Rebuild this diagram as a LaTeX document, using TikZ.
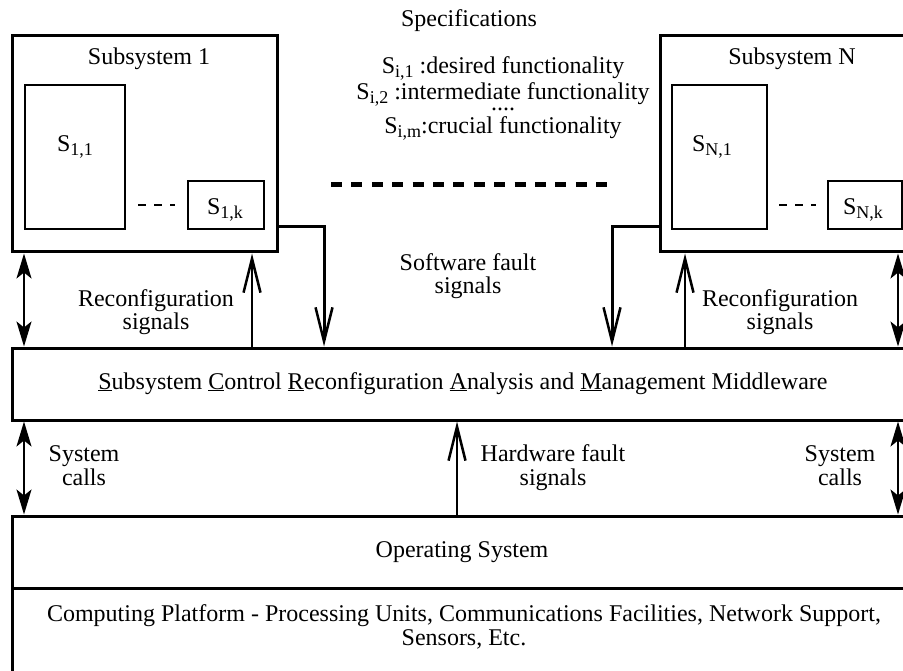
\documentclass[tikz,border=0pt]{standalone}
\usepackage{fontspec}
\setmainfont{Liberation Serif}
\usetikzlibrary{arrows.meta}
% lowered, smaller index after an S
\newcommand\idx[1]{\raisebox{-4pt}{\fontsize{18}{18}\selectfont #1}}

\begin{document}
\begin{tikzpicture}[x=1pt,y=-1pt,
  box/.style={draw, line width=3pt, inner sep=0pt},
  inbox/.style={draw, line width=2pt, inner sep=0pt},
  lbl/.style={font=\fontsize{24}{23.5}\selectfont, anchor=base, inner sep=0pt, align=center},
  upsig/.style={line width=2.5pt, -{Straight Barb[length=34pt,width=17pt]}},
  downsig/.style={line width=3pt, -{Straight Barb[length=34pt,width=17pt,line width=2.5pt]}},
  twoway/.style={line width=2pt,
    {Stealth[length=25pt,width=15pt,inset=6pt]}-{Stealth[length=25pt,width=15pt,inset=6pt]}},
  shortdash/.style={line width=2pt, dash pattern=on 8pt off 8pt},
  bigdash/.style={line width=5pt, dash pattern=on 11pt off 9.4pt}]
\useasboundingbox (0,0) rectangle (903,671);

% subsystems
\node[box, minimum width=265pt, minimum height=216pt] (sub1) at (144.5,144) {};
\node[box, minimum width=260pt, minimum height=216pt] (subN) at (790,144) {};
\node[inbox, minimum width=100pt, minimum height=144pt] (s11) at (75,157) {};
\node[inbox, minimum width=76pt, minimum height=48pt] (s1k) at (226,205) {};
\node[inbox, minimum width=95pt, minimum height=144pt] (sN1) at (719.5,157) {};
\node[inbox, minimum width=74pt, minimum height=48pt] (sNk) at (865,205) {};

% layers
\node[box, minimum width=908pt, minimum height=72pt] (mw) at (466,384) {};
\node[box, minimum width=908pt, minimum height=72pt] (os) at (466,552) {};
\node[box, minimum width=908pt, minimum height=112pt] (cp) at (466,644) {};

% labels inside subsystems
\node[lbl] (t1) at (149,65) {Subsystem 1};
\node[lbl] (tN) at (792,65) {Subsystem N};
\node[lbl] (l11) at (75,152) {S\idx{1,1}};
\node[lbl] (l1k) at (225,215) {S\idx{1,k}};
\node[lbl] (lN1) at (712,152) {S\idx{N,1}};
\node[lbl] (lNk) at (863,215) {S\idx{N,k}};
\draw[shortdash] ([xshift=12pt]s11.east |- s1k.center) -- ([xshift=-12pt]s1k.west);
\draw[shortdash] ([xshift=11pt]sN1.east |- sNk.center) -- ([xshift=-11pt]sNk.west);

% specifications (anchored at the baseline of the last line)
\node[lbl] (spec) at (469,27) {Specifications};
\node[lbl] (spl) at (503,134) {S\idx{i,1} :desired functionality\\[1.5pt]
  S\idx{i,2} :intermediate functionality\\[-12.5pt]
  ....\\[-0.5pt]
  S\idx{i,m}:crucial functionality};
\draw[bigdash] (331,185) -- (607,185);

% layer texts
\node[lbl] (mwt) at (463,389) {\underline{S}ubsystem \underline{C}ontrol \underline{R}econfiguration \underline{A}nalysis and \underline{M}anagement Middleware};
\node[lbl] (ost) at (462,557) {Operating System};
\node[lbl] (cpt) at (464,645) {Computing Platform - Processing Units, Communications Facilities, Network Support,\\Sensors, Etc.};

% signal labels (anchored at the baseline of their last line)
\node[lbl] (swf) at (468,294) {Software fault\\signals};
\node[lbl] (rc1) at (156,330) {Reconfiguration\\signals};
\node[lbl] (rcN) at (780,330) {Reconfiguration\\signals};
\node[lbl] (sc1) at (84,485) {System\\calls};
\node[lbl] (hwf) at (553,485) {Hardware fault\\signals};
\node[lbl] (scN) at (840,485) {System\\calls};

% connectors
\coordinate (d1) at (24,0);
\coordinate (dN) at (898,0);
\coordinate (r1) at (252,0);
\coordinate (rN) at (685,0);
\coordinate (f1) at (324,227);
\coordinate (fN) at (612,227);
\coordinate (hw) at (457,0);

\draw[twoway] (d1 |- sub1.south) -- (d1 |- mw.north);
\draw[twoway] (dN |- subN.south) -- (dN |- mw.north);
\draw[upsig] (r1 |- mw.north) -- (r1 |- sub1.south);
\draw[upsig] (rN |- mw.north) -- (rN |- subN.south);
\draw[downsig] (f1 -| sub1.east) -- (f1) -- (f1 |- mw.north);
\draw[downsig] (fN -| subN.west) -- (fN) -- (fN |- mw.north);

\draw[twoway] (d1 |- mw.south) -- (d1 |- os.north);
\draw[twoway] (dN |- mw.south) -- (dN |- os.north);
\draw[upsig] (hw |- os.north) -- (hw |- mw.south);
\end{tikzpicture}
\end{document}
